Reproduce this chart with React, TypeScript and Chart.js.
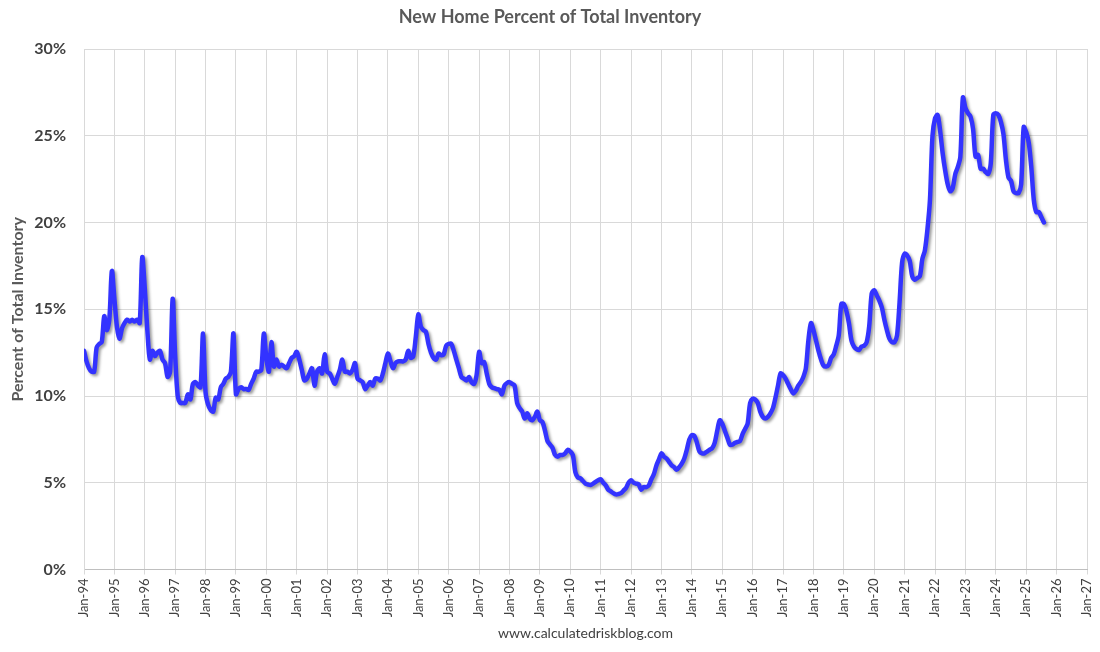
import { useEffect, useRef } from "react";
import { Chart, registerables } from "chart.js";

Chart.register(...registerables);

const TITLE = "New Home Percent of Total Inventory";
const Y_TITLE = "Percent of Total Inventory";
const FOOTER = "www.calculatedriskblog.com";
const START_YEAR = 1994;
const LAST_TICK_YEAR = 2027;

// Monthly values (percent), Jan..Dec of each year
const v1994 = [12.6, 12.0, 11.6, 11.4, 11.4, 12.8, 13.0, 13.1, 14.6, 13.8, 14.4, 17.2];
const v1995 = [15.6, 14.0, 13.3, 13.9, 14.2, 14.4, 14.3, 14.4, 14.3, 14.4, 14.2, 18.0];
const v1996 = [16.2, 13.8, 12.1, 12.6, 12.3, 12.5, 12.6, 12.1, 11.9, 11.1, 11.4, 15.6];
const v1997 = [12.3, 10.0, 9.6, 9.6, 9.6, 10.1, 9.8, 10.7, 10.8, 10.6, 10.5, 13.6];
const v1998 = [10.2, 9.5, 9.2, 9.1, 9.9, 9.8, 10.5, 10.7, 11.0, 11.1, 11.4, 13.6];
const v1999 = [10.1, 10.4, 10.5, 10.4, 10.4, 10.35, 10.7, 11.0, 11.4, 11.4, 11.5, 13.6];
const v2000 = [12.2, 11.4, 13.1, 11.7, 12.1, 11.7, 11.8, 11.7, 11.6, 11.9, 12.2, 12.3];
const v2001 = [12.55, 12.1, 11.5, 10.9, 11.0, 11.3, 11.6, 10.6, 11.4, 11.6, 11.3, 12.4];
const v2002 = [11.4, 11.3, 11.0, 10.7, 11.1, 11.5, 12.1, 11.4, 11.4, 11.3, 11.5, 11.9];
const v2003 = [11.0, 10.9, 10.8, 10.4, 10.6, 10.8, 10.6, 11.0, 11.0, 10.9, 11.3, 11.9];
const v2004 = [12.45, 12.0, 11.6, 11.9, 12.0, 12.0, 12.0, 12.1, 12.6, 12.2, 12.3, 13.4];
const v2005 = [14.7, 14.0, 13.8, 13.7, 13.0, 12.5, 12.2, 12.1, 12.45, 12.35, 12.4, 12.9];
const v2006 = [13.0, 13.0, 12.6, 12.1, 11.6, 11.1, 11.0, 10.9, 11.1, 10.8, 10.7, 11.2];
const v2007 = [12.55, 11.9, 11.95, 11.3, 10.7, 10.5, 10.45, 10.4, 10.35, 10.1, 10.6, 10.75];
const v2008 = [10.8, 10.7, 10.6, 9.6, 9.3, 9.1, 8.7, 9.0, 8.7, 8.6, 8.8, 9.1];
const v2009 = [8.6, 8.5, 8.0, 7.4, 7.2, 7.0, 6.6, 6.5, 6.6, 6.6, 6.7, 6.9];
const v2010 = [6.8, 6.6, 5.6, 5.3, 5.25, 5.1, 4.95, 4.9, 4.87, 4.95, 5.05, 5.15];
const v2011 = [5.2, 5.0, 4.85, 4.6, 4.5, 4.4, 4.33, 4.35, 4.4, 4.55, 4.7, 5.0];
const v2012 = [5.15, 5.0, 4.95, 4.9, 4.6, 4.75, 4.75, 4.85, 5.2, 5.5, 6.0, 6.35];
const v2013 = [6.7, 6.5, 6.4, 6.2, 6.0, 5.9, 5.75, 5.9, 6.1, 6.4, 6.9, 7.5];
const v2014 = [7.75, 7.7, 7.3, 6.8, 6.7, 6.7, 6.8, 6.9, 7.0, 7.3, 8.0, 8.6];
const v2015 = [8.4, 8.0, 7.6, 7.2, 7.2, 7.3, 7.35, 7.4, 7.8, 8.1, 8.4, 9.6];
const v2016 = [9.85, 9.8, 9.6, 9.1, 8.8, 8.7, 8.8, 9.0, 9.3, 9.9, 10.6, 11.3];
const v2017 = [11.2, 11.0, 10.7, 10.4, 10.15, 10.3, 10.6, 10.8, 11.1, 11.6, 13.2, 14.2];
const v2018 = [13.8, 13.2, 12.6, 12.1, 11.75, 11.7, 11.8, 12.2, 12.4, 12.9, 13.5, 15.3];
const v2019 = [15.3, 14.9, 14.2, 13.2, 12.85, 12.7, 12.65, 12.85, 12.9, 13.1, 14.0, 15.9];
const v2020 = [16.1, 15.8, 15.5, 15.1, 14.4, 13.8, 13.3, 13.1, 13.1, 13.5, 15.4, 17.7];
const v2021 = [18.2, 18.1, 17.8, 16.9, 16.7, 16.8, 16.9, 17.9, 18.4, 19.6, 21.3, 25.0];
const v2022 = [26.0, 26.2, 25.3, 24.0, 23.0, 22.2, 21.8, 22.0, 22.8, 23.2, 23.8, 27.2];
const v2023 = [26.6, 26.3, 26.1, 25.4, 23.8, 23.9, 23.1, 23.1, 22.9, 22.8, 23.4, 26.2];
const v2024 = [26.3, 26.2, 25.8, 25.1, 23.6, 22.6, 22.4, 21.8, 21.7, 21.7, 22.2, 25.5];
const v2025 = [25.2, 24.6, 23.2, 21.3, 20.6, 20.6, 20.3, 20.0];

const yearlyValues = [
  v1994, v1995, v1996, v1997, v1998, v1999, v2000, v2001, v2002, v2003, v2004,
  v2005, v2006, v2007, v2008, v2009, v2010, v2011, v2012, v2013, v2014, v2015,
  v2016, v2017, v2018, v2019, v2020, v2021, v2022, v2023, v2024, v2025,
];

const Y_MIN = 0;
const Y_MAX = 30;
const Y_STEP = 5;

const FONT = "Lato, 'Open Sans', 'DejaVu Sans', sans-serif";

export default function App() {
  const ref = useRef<HTMLCanvasElement>(null);

  useEffect(() => {
    if (!ref.current) return;
    const values = yearlyValues.flat();
    const points = values.map((v, i) => ({ x: i, y: v }));

    const shadowPlugin = {
      id: "lineShadow",
      beforeDatasetsDraw(chart: any) {
        const c = chart.ctx;
        c.save();
        c.shadowColor = "rgba(0,0,0,0.4)";
        c.shadowBlur = 3;
        c.shadowOffsetX = 2;
        c.shadowOffsetY = 2;
      },
      afterDatasetsDraw(chart: any) {
        chart.ctx.restore();
      },
    };

    const textPlugin = {
      id: "texts",
      afterDraw(chart: any) {
        const c = chart.ctx;
        const area = chart.chartArea;
        c.save();
        c.textAlign = "center";
        c.textBaseline = "middle";
        c.fillStyle = "#595959";
        c.font = `bold 18px ${FONT}`;
        c.fillText(TITLE, 550, 17);
        c.fillStyle = "#404040";
        c.font = `14px ${FONT}`;
        c.fillText(FOOTER, (area.left + area.right) / 2, 633);
        c.restore();
      },
    };

    const chart = new Chart(ref.current, {
      type: "line",
      data: {
        datasets: [
          {
            data: points,
            borderColor: "#3333ff",
            borderWidth: 4.5,
            pointRadius: 0,
            tension: 0.3,
            fill: false,
            borderJoinStyle: "round",
            borderCapStyle: "round",
          },
        ],
      },
      options: {
        responsive: false,
        animation: false,
        layout: { padding: { top: 49, right: 13, bottom: 0, left: 0 } },
        plugins: {
          legend: { display: false },
          tooltip: { enabled: false },
          title: { display: false },
        },
        scales: {
          x: {
            type: "linear",
            min: 0,
            max: (LAST_TICK_YEAR - START_YEAR) * 12,
            afterFit: (scale: any) => {
              scale.height = 82.5;
              scale.paddingLeft = 0;
              scale.paddingRight = 0;
            },
            ticks: {
              stepSize: 12,
              autoSkip: false,
              maxRotation: 90,
              minRotation: 90,
              padding: 4,
              color: "#404040",
              font: { family: FONT, size: 13 },
              callback: (value: any) => {
                const yr = START_YEAR + Math.round(Number(value) / 12);
                return "Jan-" + String(yr % 100).padStart(2, "0");
              },
            },
            grid: {
              color: "#d9d9d9",
              lineWidth: 1,
              drawTicks: true,
              tickLength: 5,
            },
            border: { color: "#bfbfbf", width: 1 },
          },
          y: {
            min: Y_MIN,
            max: Y_MAX,
            afterFit: (scale: any) => {
              scale.width = 84;
            },
            ticks: {
              stepSize: Y_STEP,
              padding: 18,
              color: "#404040",
              font: { family: FONT, size: 16, weight: "bold" },
              callback: (value: any) => `${value}%`,
            },
            grid: { color: "#d9d9d9", lineWidth: 1, drawTicks: false },
            border: { color: "#d9d9d9", width: 1 },
            title: {
              display: true,
              text: Y_TITLE,
              color: "#595959",
              font: { family: FONT, size: 16, weight: "bold" },
              padding: { top: 8, bottom: 0 },
            },
          },
        },
      },
      plugins: [shadowPlugin, textPlugin],
    } as any);

    return () => chart.destroy();
  }, []);

  return (
    <div style={{ position: "fixed", left: 0, top: 0, width: 1100, height: 652, background: "#fff" }}>
      <canvas ref={ref} width={1100} height={652} style={{ display: "block" }} />
    </div>
  );
}
